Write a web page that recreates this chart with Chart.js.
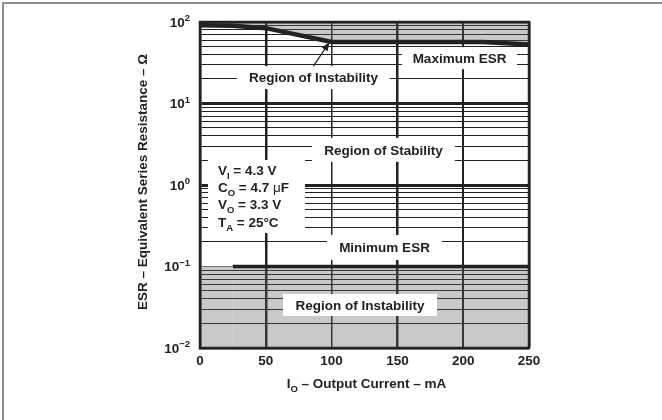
<!DOCTYPE html>
<html>
<head>
<meta charset="utf-8">
<script src="https://cdn.jsdelivr.net/npm/chart.js"></script>
<style>
  html, body { margin: 0; padding: 0; background: #fff; }
</style>
</head>
<body>
<canvas id="esr" width="662" height="420"></canvas>
<script>
// x axis: output current (mA)
const currentTicks = [0, 50, 100, 150, 200, 250];
// y axis: ESR decades (ohm) and their exponents
const esrDecades = [0.01, 0.1, 1, 10, 100];
const decadeExponents = ["\u22122", "\u22121", "0", "1", "2"];
// maximum ESR boundary
const maxEsrCurrent = [0, 25, 50, 100, 215, 250];
const maxEsrOhm = [91, 90, 84, 57, 57, 53];
// minimum ESR boundary
const minEsrCurrent = [0, 25, 250];
const minEsrOhm = [0.1, 0.1, 0.1];
// test conditions (symbol, subscript, rest)
const conditions = [
  ["V", "I", " = 4.3 V"],
  ["C", "O", " = 4.7 ", "\u03bc", "F"],
  ["V", "O", " = 3.3 V"],
  ["T", "A", " = 25\u00b0C"]
];

const ink = "#222";
const shade = "rgba(96, 96, 96, 0.34)";
const fontFamily = '"Liberation Sans", Arial, Helvetica, sans-serif';
const font = (size, weight) => `${weight || "bold"} ${size}px ${fontFamily}`;

// minor ticks 1..9 for every decade
const yTickValues = [];
esrDecades.forEach((d, i) => {
  if (i === esrDecades.length - 1) { yTickValues.push(d); return; }
  for (let m = 1; m <= 9; m++) yTickValues.push(+(d * m).toPrecision(3));
});

const isDecade = v => Math.abs(Math.log10(v) - Math.round(Math.log10(v))) < 1e-6;

const xGridWidth = v => ({ 0: 0, 50: 2.5, 100: 1.5, 150: 2.5, 200: 2, 250: 2.5 }[v] ?? 1);
const yGridWidth = v => {
  if (v === 100) return 2.5;
  if (v === 0.01) return 0;
  if (v === 0.1) return 1;
  return isDecade(v) ? 3 : 1.1;
};

// text with sub/superscript parts
function drawRich(ctx, parts, x, baseline, align) {
  const size = p => (p.sub || p.sup ? 9.5 : 13.5);
  const widths = parts.map(p => {
    ctx.font = font(size(p), p.light ? "normal" : "bold");
    return ctx.measureText(p.t).width;
  });
  const total = widths.reduce((a, b) => a + b, 0);
  let cx = align === "center" ? x - total / 2 : align === "right" ? x - total : x;
  ctx.textAlign = "left";
  ctx.textBaseline = "alphabetic";
  ctx.fillStyle = ink;
  parts.forEach((p, i) => {
    ctx.font = font(size(p), p.light ? "normal" : "bold");
    const dy = p.sub ? 4 : p.sup ? -5.5 : 0;
    ctx.fillText(p.t, cx, baseline + dy);
    cx += widths[i];
  });
}

const esrAnnotations = {
  id: "esrAnnotations",
  beforeDraw(chart) {
    const ctx = chart.ctx;
    ctx.save();
    ctx.strokeStyle = "#8c8c8c";
    ctx.lineWidth = 2;
    ctx.beginPath();
    ctx.moveTo(3, 420);
    ctx.lineTo(3, 3);
    ctx.lineTo(662, 3);
    ctx.stroke();
    ctx.restore();
  },
  afterDraw(chart) {
    const ctx = chart.ctx;
    const xs = chart.scales.x, ys = chart.scales.y;
    const a = chart.chartArea;
    ctx.save();

    // plot frame
    ctx.strokeStyle = ink;
    ctx.lineWidth = 2.5;
    ctx.strokeRect(a.left, a.top, a.right - a.left, a.bottom - a.top);

    // white label boxes
    const boxes = [
      { text: "Region of Instability", x: 86.2, y: 20.8, w: 153, h: 23 },
      { text: "Maximum ESR", x: 197.2, y: 36, w: 115, h: 22 },
      { text: "Region of Stability", x: 139.4, y: 2.7, w: 143, h: 24 },
      { text: "Minimum ESR", x: 140.2, y: 0.171, w: 115, h: 25 },
      { text: "Region of Instability", x: 121.6, y: 0.0337, w: 154, h: 22 }
    ];
    boxes.forEach(b => {
      const cx = xs.getPixelForValue(b.x), cy = ys.getPixelForValue(b.y);
      ctx.fillStyle = "#fff";
      ctx.fillRect(cx - b.w / 2, cy - b.h / 2, b.w, b.h);
      drawRich(ctx, [{ t: b.text }], cx, cy + 4.8, "center");
    });

    // arrow from upper label to max ESR curve
    const top = boxes[0];
    const tx = xs.getPixelForValue(top.x), ty = ys.getPixelForValue(top.y) - top.h / 2;
    const hx = xs.getPixelForValue(98.5), hy = ys.getPixelForValue(57);
    const ang = Math.atan2(hy - ty, hx - tx);
    ctx.strokeStyle = ink;
    ctx.lineWidth = 1.2;
    ctx.beginPath();
    ctx.moveTo(tx, ty);
    ctx.lineTo(hx - 6 * Math.cos(ang), hy - 6 * Math.sin(ang));
    ctx.stroke();
    ctx.fillStyle = ink;
    ctx.beginPath();
    ctx.moveTo(hx, hy);
    ctx.lineTo(hx - 9 * Math.cos(ang) + 3.5 * Math.sin(ang), hy - 9 * Math.sin(ang) - 3.5 * Math.cos(ang));
    ctx.lineTo(hx - 9 * Math.cos(ang) - 3.5 * Math.sin(ang), hy - 9 * Math.sin(ang) + 3.5 * Math.cos(ang));
    ctx.closePath();
    ctx.fill();

    // conditions box
    const ccx = xs.getPixelForValue(42.9), ccy = ys.getPixelForValue(0.723);
    const cw = 97, ch = 73;
    ctx.fillStyle = "#fff";
    ctx.fillRect(ccx - cw / 2, ccy - ch / 2, cw, ch);
    conditions.forEach((c, i) => {
      const parts = [{ t: c[0] }, { t: c[1], sub: true }, { t: c[2] }];
      if (c[3]) { parts.push({ t: c[3], light: true }); parts.push({ t: c[4] }); }
      drawRich(ctx, parts, ccx - cw / 2 + 10, ccy - ch / 2 + 10 + i * 17.3 + 4.8, "left");
    });

    // y tick labels 10^n
    esrDecades.forEach((v, i) => {
      const py = ys.getPixelForValue(v);
      drawRich(ctx, [{ t: "10" }, { t: decadeExponents[i], sup: true }], a.left - 10, py + 4.8, "right");
    });

    // y axis title
    ctx.save();
    ctx.translate(142, (a.top + a.bottom) / 2 - 3);
    ctx.rotate(-Math.PI / 2);
    drawRich(ctx, [{ t: "ESR \u2013 Equivalent Series Resistance \u2013 \u03a9" }], 0, 4.8, "center");
    ctx.restore();

    // x axis title
    drawRich(ctx, [{ t: "I" }, { t: "O", sub: true }, { t: " \u2013 Output Current \u2013 mA" }],
      (a.left + a.right) / 2 + 2, 388, "center");

    ctx.restore();
  }
};

new Chart(document.getElementById("esr"), {
  type: "line",
  data: {
    datasets: [
      {
        data: maxEsrCurrent.map((x, i) => ({ x, y: maxEsrOhm[i] })),
        borderColor: ink,
        borderWidth: 4.5,
        fill: "end",
        backgroundColor: shade,
        pointRadius: 0,
        tension: 0
      },
      {
        data: minEsrCurrent.map((x, i) => ({ x, y: minEsrOhm[i] })),
        borderColor: ink,
        borderWidth: 3.5,
        segment: {
          borderWidth: c => (c.p0DataIndex === 0 ? 1.2 : 3.5),
          borderColor: c => (c.p0DataIndex === 0 ? "#777" : ink)
        },
        fill: "start",
        backgroundColor: shade,
        pointRadius: 0,
        tension: 0
      }
    ]
  },
  options: {
    responsive: false,
    animation: false,
    events: [],
    layout: { padding: { left: 140, top: 22, right: 133, bottom: 42 } },
    plugins: { legend: { display: false }, tooltip: { enabled: false } },
    scales: {
      x: {
        type: "linear",
        min: 0,
        max: 250,
        afterBuildTicks: s => { s.ticks = currentTicks.map(v => ({ value: v })); },
        afterFit: s => { s.height = 30; },
        ticks: { font: { family: fontFamily, size: 13.5, weight: "bold" }, color: ink, padding: 5, autoSkip: false, maxRotation: 0 },
        grid: { drawTicks: false, color: ink, lineWidth: c => xGridWidth(c.tick && c.tick.value) },
        border: { color: ink, width: 2.5 }
      },
      y: {
        type: "logarithmic",
        min: 0.01,
        max: 100,
        afterBuildTicks: s => { s.ticks = yTickValues.map(v => ({ value: v })); },
        afterFit: s => { s.width = 60; },
        ticks: { display: false },
        grid: { drawTicks: false, color: ink, lineWidth: c => yGridWidth(c.tick && c.tick.value) },
        border: { color: ink, width: 2.5 }
      }
    }
  },
  plugins: [esrAnnotations]
});
</script>
</body>
</html>
